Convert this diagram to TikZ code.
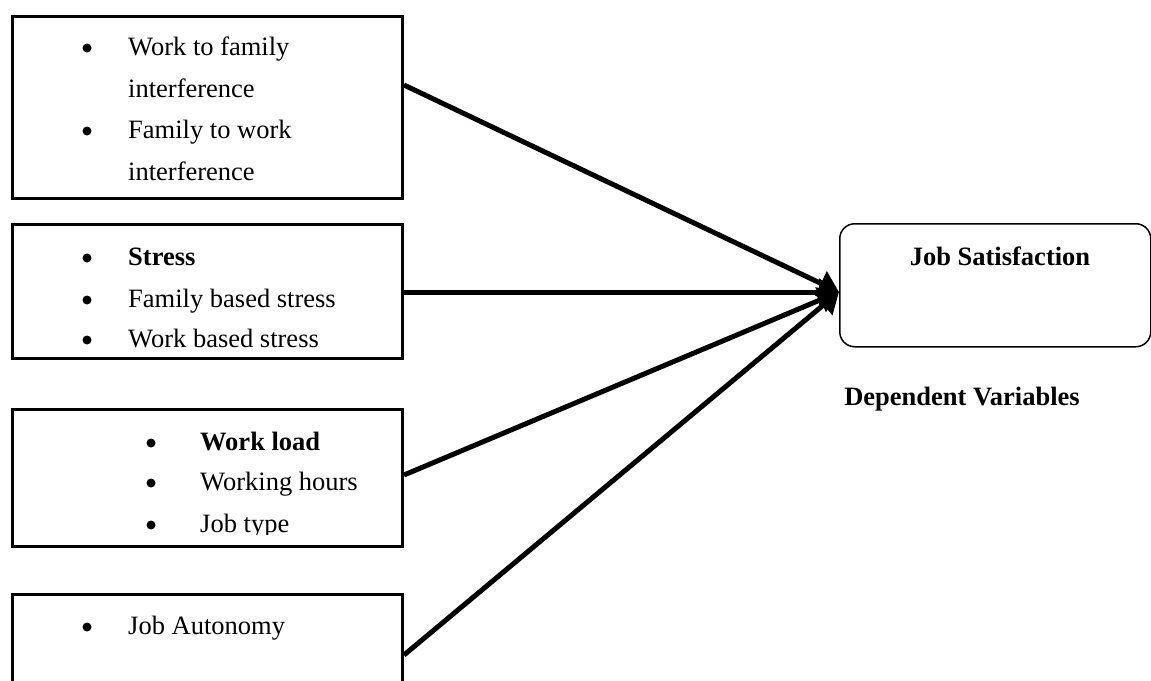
\documentclass[tikz,border=0pt]{standalone}
\usepackage{fontspec}
\setmainfont{Liberation Serif}
\usetikzlibrary{arrows.meta,calc}
\tikzset{
  vbox/.style={draw, line width=3pt, anchor=north west, minimum width=390pt, inner sep=0pt},
  txt/.style={anchor=base west, inner sep=0pt, font=\fontsize{26.5}{30}\selectfont},
  bul/.style={circle, fill, inner sep=0pt, minimum size=9pt},
  conn/.style={line width=5pt, -{Triangle[length=20pt,width=26pt]}},
  jsbox/.style={draw, line width=1.5pt, rounded corners=15pt, anchor=north west, minimum width=311pt, minimum height=123pt, inner sep=0pt}
}
\begin{document}
\begin{tikzpicture}[x=1pt,y=1pt]
\useasboundingbox (0,0) rectangle (1151,-680);
\clip (0,0) rectangle (1151,-680);
% boxes
\node[vbox, minimum height=182pt] (b1) at (11,-15) {};
\node[vbox, minimum height=134pt] (b2) at (11,-223) {};
\node[vbox, minimum height=137pt] (b3) at (11,-408) {};
\node[vbox, minimum height=130pt] (b4) at (11,-593) {};
\node[jsbox] (js) at (839,-223) {};
% box 1 text
\node[bul] (p1) at (87,-48) {};
\node[txt] (t1a) at (128,-55) {Work to family};
\node[txt] (t1b) at (128,-97) {interference};
\node[bul] (p2) at (87,-131) {};
\node[txt] (t1c) at (128,-138) {Family to work};
\node[txt] (t1d) at (128,-180) {interference};
% box 2 text
\node[bul] (p3) at (87,-258) {};
\node[txt] (t2a) at (128,-265) {\bfseries Stress};
\node[bul] (p4) at (87,-300) {};
\node[txt] (t2b) at (128,-307) {Family based stress};
\node[bul] (p5) at (87,-340) {};
\node[txt] (t2c) at (128,-347) {Work based stress};
% box 3 text
\begin{scope}
\clip (11,-408) rectangle (401,-534);
\node[bul] (p6) at (151,-443) {};
\node[txt] (t3a) at (200,-450) {\bfseries Work load};
\node[bul] (p7) at (151,-483) {};
\node[txt] (t3b) at (200,-490) {Working hours};
\node[bul] (p8) at (151,-525) {};
\node[txt] (t3c) at (200,-532) {Job type};
\end{scope}
% box 4 text
\node[bul] (p9) at (87,-627) {};
\node[txt] (t4a) at (128,-634) {Job Autonomy};
% dependent
\node[anchor=base, inner sep=0pt, font=\fontsize{26.5}{30}\selectfont\bfseries] (jst) at (1000,-265) {Job Satisfaction};
\node[anchor=base, inner sep=0pt, font=\fontsize{26.5}{30}\selectfont\bfseries] (dv) at (962,-405) {Dependent Variables};
% connectors
\coordinate (tip) at ($(js.north west)+(0,-69)$);
\draw[conn] ($(b1.north east)+(0,-70)$) -- (tip);
\draw[conn] ($(b2.north east)+(0,-69)$) -- (tip);
\draw[conn] ($(b3.north east)+(0,-67)$) -- (tip);
\draw[conn] ($(b4.north east)+(0,-62)$) -- (tip);
\end{tikzpicture}
\end{document}
